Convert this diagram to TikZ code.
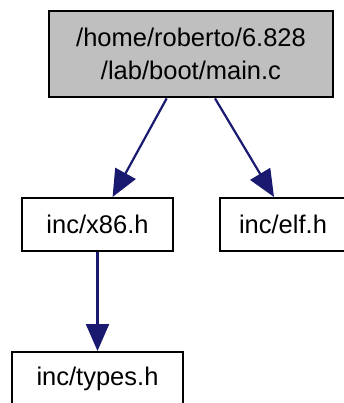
\documentclass[tikz,border=0pt]{standalone}
\usepackage{fontspec}
\setmainfont{Liberation Sans}
\usetikzlibrary{arrows.meta}
\definecolor{edgeblue}{RGB}{25,25,112}
\definecolor{rootgray}{RGB}{191,191,191}
\begin{document}
\begin{tikzpicture}[x=1pt,y=1pt,
  every node/.style={font=\fontsize{25.5}{33}\selectfont},
  file/.style={draw=black,line width=2pt,rectangle,inner sep=0pt,align=center},
  dep/.style={draw=edgeblue,line width=2.2pt,-{Triangle[length=27pt,width=23pt]}}]
\useasboundingbox (0,0) rectangle (344,-403);
\node[file,fill=rootgray,line width=2.8pt,minimum width=284,minimum height=86] (main) at (191,-54) {/home/roberto/6.828\\/lab/boot/main.c};
\node[file,minimum width=151,minimum height=53] (x86) at (97.5,-224.5) {inc/x86.h};
\node[file,minimum width=126,minimum height=53] (elf) at (283,-224.5) {inc/elf.h};
\node[file,minimum width=171,minimum height=53] (types) at (97.5,-378.5) {inc/types.h};
\draw[dep] (main) -- (x86);
\draw[dep] ([xshift=24pt]main.south) -- ([xshift=-9pt]elf.north);
\draw[dep] (x86) -- (types);
\end{tikzpicture}
\end{document}
